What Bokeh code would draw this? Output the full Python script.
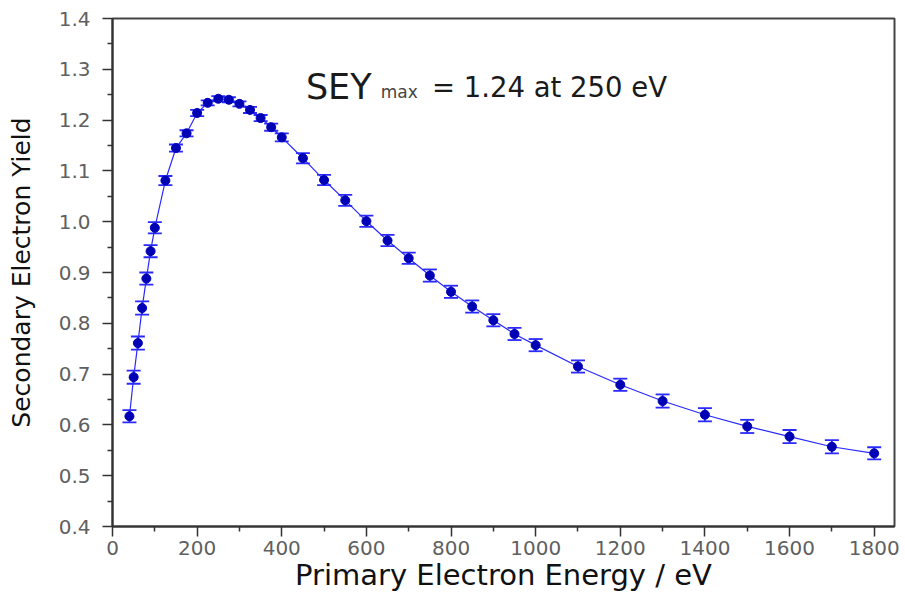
from bokeh.plotting import figure
from bokeh.models import (ColumnDataSource, Range1d, Whisker, TeeHead, Label, FixedTicker,
                          CustomJSTickFormatter)
from bokeh.embed import file_html
from bokeh.resources import INLINE

energy = [40, 50, 60, 70, 80, 90, 100, 125, 150, 175, 200, 225, 250, 275, 300, 325, 350, 375, 400,
          450, 500, 550, 600, 650, 700, 750, 800, 850, 900, 950, 1000, 1100, 1200, 1300, 1400,
          1500, 1600, 1700, 1800]
sey = [0.617, 0.694, 0.761, 0.830, 0.888, 0.942, 0.988, 1.081, 1.145, 1.174, 1.214, 1.234, 1.242,
       1.240, 1.232, 1.220, 1.204, 1.186, 1.166, 1.125, 1.082, 1.042, 1.001, 0.963, 0.928, 0.894,
       0.862, 0.833, 0.806, 0.779, 0.757, 0.715, 0.679, 0.647, 0.620, 0.597, 0.577, 0.557, 0.544]
err = [0.012, 0.013, 0.013, 0.013, 0.012, 0.012, 0.011, 0.009, 0.007, 0.006, 0.006, 0.005, 0.005,
       0.005, 0.005, 0.006, 0.006, 0.007, 0.008, 0.010, 0.010, 0.011, 0.011, 0.011, 0.011, 0.012,
       0.012, 0.012, 0.012, 0.012, 0.012, 0.012, 0.012, 0.013, 0.013, 0.013, 0.013, 0.013, 0.012]

x_ticks = [0, 200, 400, 600, 800, 1000, 1200, 1400, 1600, 1800]
y_ticks = [0.4, 0.5, 0.6, 0.7, 0.8, 0.9, 1.0, 1.1, 1.2, 1.3, 1.4]

title_main = "SEY"
title_sub = "max"
title_rest = "= 1.24 at 250 eV"
x_label = "Primary Electron Energy / eV"
y_label = "Secondary Electron Yield"

src = ColumnDataSource(dict(
    x=energy, y=sey,
    lo=[v - e for v, e in zip(sey, err)],
    hi=[v + e for v, e in zip(sey, err)],
))

p = figure(width=903, height=598, output_backend="svg", toolbar_location=None,
           x_range=Range1d(0, 1848), y_range=Range1d(0.4, 1.4),
           min_border_left=112, min_border_right=9, min_border_top=18, min_border_bottom=72)

p.grid.visible = False
p.background_fill_color = "white"
p.border_fill_color = "white"
p.outline_line_color = "#444444"
p.outline_line_width = 2

line_col = "#2a2aff"
mark_col = "#0000b4"

p.line("x", "y", source=src, line_color=line_col, line_width=1.2)
wh = Whisker(base="x", lower="lo", upper="hi", source=src, line_color=line_col, line_width=1.8,
             upper_head=TeeHead(size=14, line_color=line_col, line_width=1.8),
             lower_head=TeeHead(size=14, line_color=line_col, line_width=1.8))
p.add_layout(wh)
p.scatter("x", "y", source=src, size=9, fill_color=mark_col, line_color=mark_col)

for ax in (p.xaxis[0], p.yaxis[0]):
    ax.axis_line_color = "#333333"
    ax.axis_line_width = 2
    ax.major_tick_line_color = "#333333"
    ax.minor_tick_line_color = "#333333"
    ax.major_tick_line_width = 1.5
    ax.minor_tick_line_width = 1.5
    ax.major_tick_in = 0
    ax.major_tick_out = 10
    ax.minor_tick_in = 0
    ax.minor_tick_out = 5
    ax.major_label_text_color = "#606060"
    ax.major_label_text_font = "DejaVu Sans"
    ax.major_label_text_font_size = "20px"
    ax.axis_label_text_color = "#111111"
    ax.axis_label_text_font = "DejaVu Sans"
    ax.axis_label_text_font_style = "normal"

p.xaxis.ticker = FixedTicker(ticks=x_ticks, minor_ticks=[v + 100 for v in x_ticks])
p.yaxis.ticker = FixedTicker(ticks=y_ticks, minor_ticks=[round(v + 0.05, 2) for v in y_ticks[:-1]])
p.yaxis.formatter = CustomJSTickFormatter(code="return tick.toFixed(1);")

p.xaxis.axis_label = x_label
p.xaxis.axis_label_text_font_size = "29px"
p.xaxis.major_label_standoff = 4
p.xaxis.axis_label_standoff = 0

p.yaxis.axis_label = y_label
p.yaxis.axis_label_text_font_size = "25px"
p.yaxis.major_label_standoff = 12
p.yaxis.axis_label_standoff = 20

p.add_layout(Label(x=457, y=1.2648, text=title_main, text_font="DejaVu Sans",
                   text_font_size="35px", text_color="#1a1a1a", text_baseline="alphabetic"))
p.add_layout(Label(x=634, y=1.2545, text=title_sub, text_font="DejaVu Sans",
                   text_font_size="17px", text_color="#444444", text_baseline="alphabetic"))
p.add_layout(Label(x=755, y=1.2648, text=title_rest, text_font="DejaVu Sans",
                   text_font_size="27.5px", text_color="#1a1a1a", text_baseline="alphabetic"))

open("out.html", "w").write(file_html(p, INLINE))
